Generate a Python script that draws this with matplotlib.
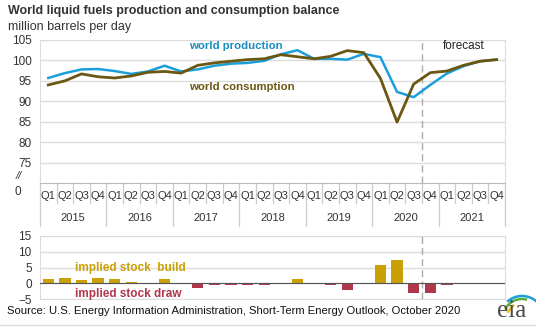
import matplotlib.pyplot as plt
import matplotlib.transforms as mtransforms
from matplotlib.patches import Arc

plt.rcParams['font.family'] = ['Liberation Sans', 'DejaVu Sans']

# quarterly world liquid fuels balance, million barrels per day
years = ['2015', '2016', '2017', '2018', '2019', '2020', '2021']
quarters = ['Q1', 'Q2', 'Q3', 'Q4']
production = [95.7, 96.9, 97.8, 97.9, 97.4, 96.7, 97.3, 98.7,
              97.3, 97.8, 98.7, 99.2, 99.4, 99.9, 101.5, 102.5,
              100.4, 100.4, 100.2, 101.6, 100.8, 92.3, 91.0, 94.0,
              96.8, 98.6, 99.8, 100.2]
consumption = [94.0, 95.0, 96.7, 96.0, 95.7, 96.2, 97.1, 97.3,
               96.9, 98.8, 99.4, 99.8, 100.2, 100.4, 101.4, 100.9,
               100.4, 101.0, 102.4, 101.9, 95.6, 84.9, 94.2, 97.0,
               97.4, 98.8, 99.8, 100.2]
stock_change = [1.3, 1.6, 0.9, 1.6, 1.3, 0.3, 0.0, 1.2,
                0.2, -1.4, -0.7, -0.7, -0.7, -0.5, 0.1, 1.4,
                -0.3, -0.7, -2.3, -0.2, 5.8, 7.3, -3.2, -3.1,
                -0.7, 0.0, -0.3, -0.1]
forecast_start = 23

blue = '#1a9fdb'
brown = '#6b5612'
gold = '#c9a005'
red = '#b0364c'
grid = '#dcdcdc'
text_c = '#333333'

W, H = 536, 336
fig = plt.figure(figsize=(W / 100, H / 100), dpi=100)

def box(l, t, r, b):
    return [l / W, 1 - b / H, (r - l) / W, (b - t) / H]

xs = list(range(len(production)))

ax = fig.add_axes(box(40, 40, 505, 183))
ax.set_xlim(-0.5, len(xs) - 0.5)
ax.set_ylim(70, 105)
ax.set_yticks(range(75, 106, 5))
ax.yaxis.grid(True, color=grid, lw=1)
ax.set_axisbelow(True)
ax.tick_params(length=0, labelsize=8.5, colors=text_c, pad=6)
ax.set_xticks([])
for s in ax.spines.values():
    s.set_color(grid)
ax.spines['bottom'].set_color('#bbbbbb')

ax.plot(xs, production, color=blue, lw=1.8, zorder=3)
ax.plot(xs, consumption, color=brown, lw=2.0, zorder=4)
ax.axvline(forecast_start - 0.5, color='#aaaaaa', lw=1, ls=(0, (5, 3)))

ax.text(-0.04, 71.8, '//', transform=mtransforms.blended_transform_factory(ax.transAxes, ax.transData),
        ha='right', va='center', fontsize=8, color=text_c, style='italic')
ax.text(-0.04, -0.06, '0', transform=ax.transAxes, ha='right', va='center',
        fontsize=8.5, color=text_c)

ax.text(8.5, 103.6, 'world production', color='#1a8cc0', fontsize=8.2,
        fontweight='bold', va='center')
ax.text(8.5, 93.6, 'world consumption', color=brown, fontsize=8.2,
        fontweight='bold', va='center')
ax.text(25.0, 103.6, 'forecast', color='#222222', fontsize=8.5,
        ha='center', va='center')

# quarter / year category axis below the top panel
trans = mtransforms.blended_transform_factory(ax.transData, ax.transAxes)
for i in xs:
    ax.text(i, -0.09, quarters[i % 4], transform=trans, ha='center',
            va='center', fontsize=8, color=text_c)
for j, yr in enumerate(years):
    ax.text(4 * j + 1.5, -0.245, yr, transform=trans, ha='center',
            va='center', fontsize=8, color=text_c)
for k in range(len(xs) + 1):
    bottom = -0.30 if k % 4 == 0 else -0.14
    ax.plot([k - 0.5, k - 0.5], [0, bottom], transform=trans, color='#cccccc',
            lw=0.9, clip_on=False)

# implied stock change panel
bx = fig.add_axes(box(40, 236, 505, 299))
bx.set_xlim(-0.5, len(xs) - 0.5)
bx.set_ylim(-5, 15)
bx.set_yticks([-5, 0, 5, 10, 15])
bx.yaxis.grid(True, color=grid, lw=1)
bx.set_axisbelow(True)
bx.tick_params(length=0, labelsize=8.5, colors=text_c, pad=6)
bx.set_xticks([])
for s in bx.spines.values():
    s.set_color(grid)
bar_colors = [gold if v >= 0 else red for v in stock_change]
bx.bar(xs, stock_change, width=0.68, color=bar_colors, zorder=2)
bx.axhline(0, color='#555555', lw=0.8, zorder=3)
bx.axvline(forecast_start - 0.5, color='#aaaaaa', lw=1, ls=(0, (5, 3)))
bx.text(1.6, 5.0, 'implied stock  build', color=gold, fontsize=8.5,
        fontweight='bold', va='center')
bx.text(1.6, -3.3, 'implied stock draw', color=red, fontsize=8.5,
        fontweight='bold', va='center')

fig.text(8 / W, 1 - 11 / H, 'World liquid fuels production and consumption balance',
         fontsize=9, fontweight='bold', color=text_c, va='center')
fig.text(8 / W, 1 - 27 / H, 'million barrels per day', fontsize=9,
         color=text_c, va='center')
fig.text(7 / W, 1 - 311 / H,
         'Source: U.S. Energy Information Administration, Short-Term Energy Outlook, October 2020',
         fontsize=8.1, color='#111111', va='center')
fig.add_artist(plt.Line2D([0, 1], [1 - 325 / H] * 2, color='#dddddd', lw=1))

# eia logo
fig.text(512 / W, 1 - 311 / H, 'eia', fontsize=18, family='Liberation Serif',
         color='#4a4a4a', ha='center', va='center')
for r, c, t1, t2 in [(15, '#f2c500', 110, 150), (19, '#5daa3c', 80, 140),
                     (22, '#1a9fdb', 15, 120)]:
    fig.add_artist(Arc((522 / W, 1 - 318 / H), 2 * r / W, 2 * r / H,
                       theta1=t1, theta2=t2, color=c, lw=1.8,
                       transform=fig.transFigure))

fig.savefig('out.png', dpi=100)
